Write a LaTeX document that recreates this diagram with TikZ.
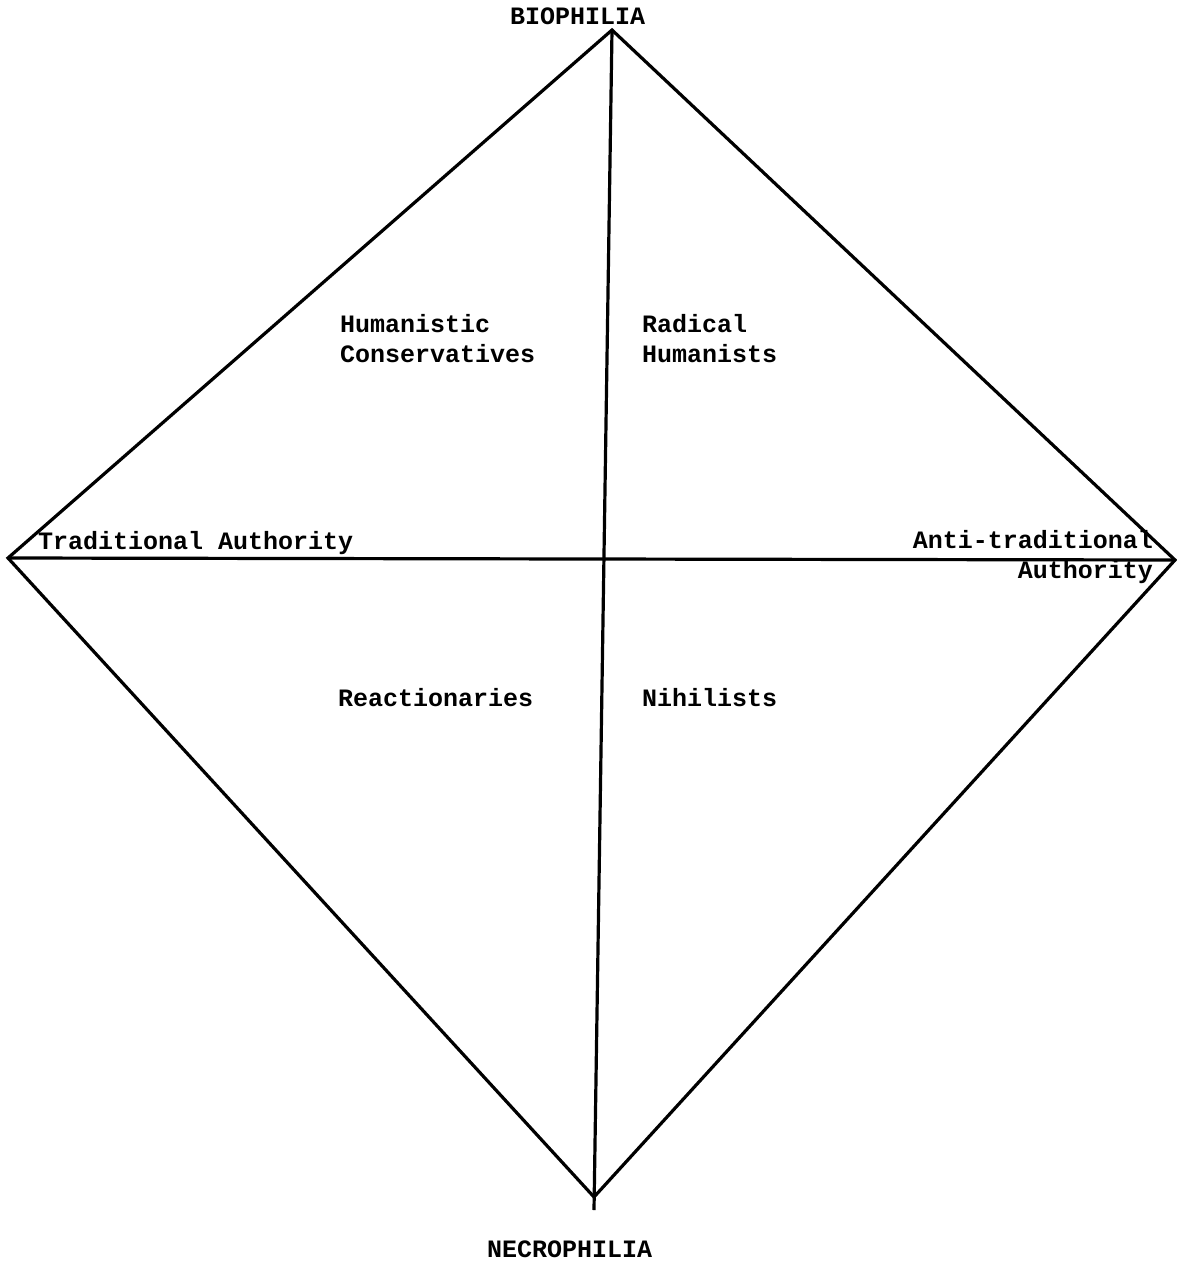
\documentclass[tikz,border=0pt]{standalone}
\usepackage{fontspec}
\setmonofont{Liberation Mono}
\usetikzlibrary{positioning}

\begin{document}
\begin{tikzpicture}[x=1pt,y=-1pt,
                    every node/.style={inner sep=0pt,font=\fontsize{25}{30}\selectfont\ttfamily\bfseries},
                    pole/.style={anchor=base west},
                    quadrant/.style={anchor=base west,align=left},
                    axis/.style={line width=3.2pt,line join=miter}]
   \useasboundingbox (0,0) rectangle (1177,1263);
   \coordinate (top) at (612,30);
   \coordinate (left) at (8,558);
   \coordinate (right) at (1175,560);
   \coordinate (bottom) at (594,1197);
   \coordinate (tail) at (594,1210);
   \draw [axis] (top) -- (right) -- (bottom) -- (left) -- cycle;
   \draw [axis] (top) -- (tail);
   \draw [axis] (left) -- (right);
   \node (biophilia) [pole] at (510,25) {BIOPHILIA};
   \node (necrophilia) [pole] at (487,1257) {NECROPHILIA};
   \node (conservatives) [quadrant] at (340,362) {Humanistic\\Conservatives};
   \node (humanists) [quadrant] at (642,362) {Radical\\Humanists};
   \node (reactionaries) [pole] at (338,706) {Reactionaries};
   \node (nihilists) [pole] at (642,706) {Nihilists};
   \node (traditional) [pole] at (38,549) {Traditional Authority};
   \node (antitraditional) [anchor=base east,align=right] at (1153,578) {Anti-traditional\\Authority};
\end{tikzpicture}
\end{document}
